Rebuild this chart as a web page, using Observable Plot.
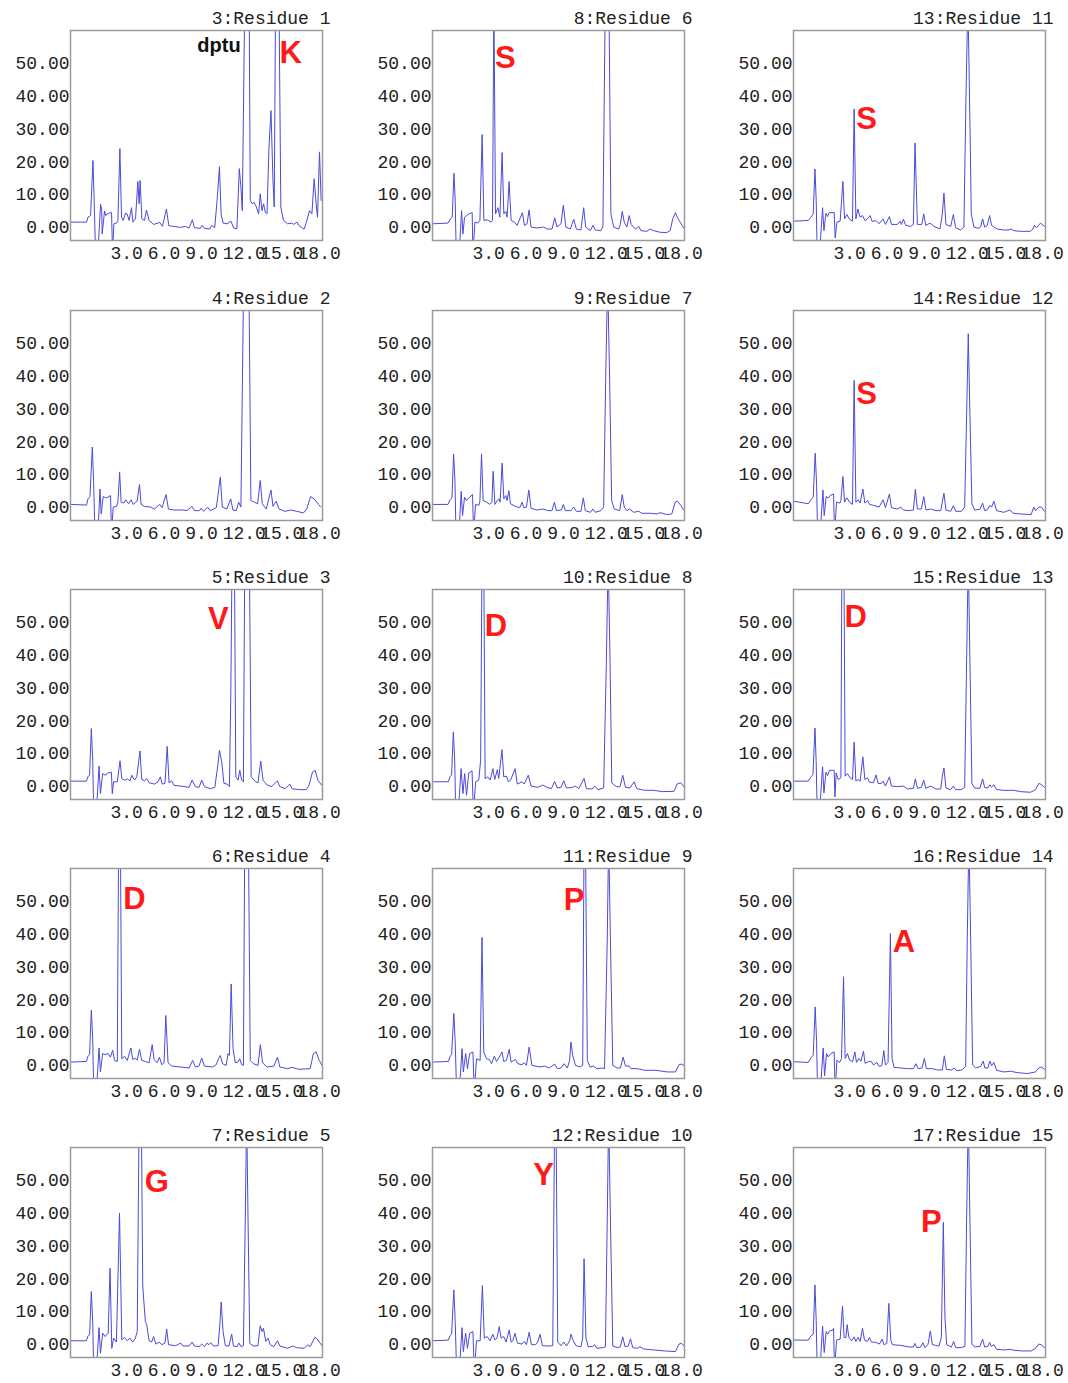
<!DOCTYPE html>
<html><head><meta charset="utf-8">
<script src="https://cdn.jsdelivr.net/npm/d3@7"></script>
<script src="https://cdn.jsdelivr.net/npm/@observablehq/plot@0.6"></script>
<style>
body{margin:0;background:#fff;}
#grid{position:relative;width:1068px;height:1383px;background:#fff;}
.panel{position:absolute;}
</style></head><body><div id="grid"></div>
<script>
const xTicks = [3, 6, 9, 12, 15, 18];
const yTicks = [0, 10, 20, 30, 40, 50];
const titles = ["3:Residue 1","4:Residue 2","5:Residue 3","6:Residue 4","7:Residue 5",
  "8:Residue 6","9:Residue 7","10:Residue 8","11:Residue 9","12:Residue 10",
  "13:Residue 11","14:Residue 12","15:Residue 13","16:Residue 14","17:Residue 15"];

// Chromatogram traces: [time (min), signal]
const res1 = [[-0.19,1.6],[1.09,1.6],[1.2,3.1],[1.41,3.6],[1.6,20.4],[1.7,8],[1.81,-8],[2.0,-8],[2.21,7],[2.3,5.6],[2.34,-2],[2.53,5],[2.64,3.6],[2.74,4.1],[3.01,4.5],[3.09,4.5],[3.17,-8],[3.28,1.1],[3.49,1.3],[3.6,2.1],[3.76,24],[3.89,3.1],[4.02,2.1],[4.21,4.3],[4.34,4.1],[4.5,2.1],[4.69,6],[4.8,1.6],[5.01,2.6],[5.2,14],[5.3,7.2],[5.38,14.3],[5.52,2.6],[5.73,2.1],[5.89,5.3],[6.1,2.1],[6.47,0.9],[6.95,1.5],[7.17,0.3],[7.49,5.6],[7.68,0.5],[8.08,0.3],[8.61,0],[9.01,0.3],[9.3,-0.2],[9.57,2.3],[9.73,-0.1],[10.21,-0.3],[10.34,0.6],[10.53,-0.3],[10.96,-0.5],[11.12,0.6],[11.36,-0.1],[11.55,8.2],[11.74,18.5],[11.87,4.1],[12.03,1.3],[12.34,1.1],[12.66,1.9],[12.88,-0.2],[13.14,-0.4],[13.33,17.9],[13.46,12.3],[13.57,5.1],[13.77,70],[14.12,70],[14.21,8.2],[14.37,7.2],[14.53,7.6],[14.69,6.3],[14.88,4.1],[15.01,10.2],[15.15,5.1],[15.28,7.2],[15.41,4.6],[15.55,4.1],[15.71,24.5],[15.87,35.6],[16.03,14.3],[16.13,6.2],[16.24,70],[16.51,70],[16.66,6.2],[16.87,2.1],[17.2,1.1],[17.55,1.3],[17.68,0.9],[17.95,1.6],[18.1,0.6],[18.34,-0.1],[18.53,-0.5],[18.75,2.1],[18.96,5.1],[19.15,4.1],[19.33,14.8],[19.49,7.2],[19.6,3.1],[19.76,23],[19.89,8.2]];
const res2 = [[-0.19,0.9],[1.09,0.7],[1.2,2.6],[1.36,3.3],[1.55,18.4],[1.65,8.2],[1.76,-8],[2.0,-8],[2.16,5.6],[2.26,-2],[2.42,3.3],[2.61,2.9],[2.8,3.1],[3.01,3.6],[3.09,-8],[3.22,0.1],[3.49,0.3],[3.6,1.6],[3.74,10.7],[3.86,1.6],[4.07,1.3],[4.23,2.3],[4.45,1.1],[4.66,2.3],[4.82,0.9],[5.14,1.9],[5.33,7],[5.46,0.9],[5.73,0.3],[6.21,0.1],[6.53,-0.5],[6.95,0.9],[7.14,-0.1],[7.46,3.9],[7.65,-0.5],[8.08,-0.8],[8.74,-0.8],[9.14,-1],[9.54,0.3],[9.73,-1],[10.15,-1],[10.26,-0.3],[10.47,-1.2],[10.79,0.1],[11.0,-1],[11.49,-0.1],[11.81,9.2],[11.97,0.1],[12.34,-0.5],[12.64,2.6],[12.82,-0.8],[13.09,-1],[13.28,1.6],[13.46,0.1],[13.68,70],[14.1,70],[14.26,2.1],[14.53,1.6],[14.8,1.1],[15.01,8.2],[15.17,1.1],[15.49,-0.5],[15.87,5.3],[16.03,0.3],[16.29,1.9],[16.51,-0.5],[17.0,-1.2],[17.46,-0.8],[17.94,-1.2],[18.47,-1.7],[18.74,-0.5],[19.05,3.3],[19.33,2.6],[19.68,0.9],[19.86,0.1]];
const res3 = [[-0.2,1.6],[1.07,1.6],[1.22,3.1],[1.33,3.4],[1.47,17.6],[1.58,8],[1.66,-8],[1.87,-8],[2.09,6.2],[2.2,-2.2],[2.38,3.9],[2.57,3.4],[2.82,4.1],[3.08,4.3],[3.15,-2.2],[3.26,1.4],[3.55,1.4],[3.77,7.8],[3.91,2.4],[4.13,1.9],[4.39,2.3],[4.57,1.6],[4.71,3.4],[4.93,1.9],[5.11,2.9],[5.37,10.8],[5.51,2.1],[5.73,1.7],[5.91,2.4],[6.1,1.1],[6.53,0.7],[6.82,1.4],[7.0,2.9],[7.15,0.7],[7.37,0.9],[7.55,12.2],[7.7,1.1],[7.91,1.7],[8.1,0.3],[8.64,0.1],[9.3,-0.3],[9.55,1.9],[9.81,-0.1],[10.1,-0.3],[10.32,1.9],[10.54,-0.1],[11.01,-0.7],[11.37,-0.3],[11.63,7],[11.74,11],[11.92,7.5],[12.1,0.9],[12.35,0.7],[12.54,-0.1],[12.65,28],[12.75,70],[12.94,70],[13.05,2.9],[13.23,1.9],[13.37,4.9],[13.52,1.9],[13.66,1.4],[13.77,70],[14.14,70],[14.28,2.9],[14.65,1.4],[14.83,1.1],[15.05,7.7],[15.23,1.9],[15.56,0.4],[15.92,-0.1],[16.39,1.7],[16.58,-0.1],[17.01,-0.7],[17.38,0.7],[17.56,-0.7],[18.1,-1],[18.69,-1],[18.9,0.1],[19.2,4.4],[19.41,4.9],[19.63,1.9],[19.92,0.4]];
const res4 = [[-0.2,1],[1.07,1.2],[1.22,3],[1.33,3.3],[1.47,16.8],[1.58,8.1],[1.66,-8],[1.87,-8],[2.09,5.3],[2.2,-2],[2.38,3.6],[2.57,3.3],[2.82,3.6],[3.0,2.5],[3.18,4.6],[3.33,1.5],[3.55,1.2],[3.66,70],[3.8,70],[3.91,2],[4.13,2.8],[4.35,1.5],[4.64,5.3],[4.79,1.8],[5.0,2.2],[5.15,1.6],[5.33,4.9],[5.51,1.5],[5.8,1.2],[6.1,0.8],[6.35,6.3],[6.5,1.8],[6.75,0.8],[6.93,2.5],[7.11,0.2],[7.3,0.8],[7.44,15.2],[7.62,0.8],[7.91,-0.2],[8.64,-0.5],[9.3,-0.8],[9.59,1.5],[9.81,-0.5],[10.1,-0.2],[10.32,2.2],[10.54,-0.2],[11.19,-0.5],[11.48,0.2],[11.66,2],[11.81,3],[11.99,0.5],[12.28,0],[12.43,3.6],[12.54,3],[12.68,24.8],[12.83,5.1],[13.01,0.8],[13.23,1],[13.37,2],[13.52,0.2],[13.66,0],[13.77,70],[14.06,70],[14.21,1.5],[14.47,0.5],[14.83,0],[15.02,6.3],[15.2,0.8],[15.56,-0.5],[16.1,-0.2],[16.39,2.5],[16.58,-0.5],[17.19,-1],[17.56,-0.6],[18.1,-1.2],[19.01,-1],[19.27,3.6],[19.49,4.1],[19.74,1.5],[19.96,0]];
const res5 = [[-0.2,1.1],[1.07,1.1],[1.22,2.7],[1.33,2.9],[1.47,16.1],[1.58,7],[1.66,-8],[1.87,-8],[2.09,5.1],[2.2,-2.7],[2.38,3.4],[2.57,2.4],[2.82,3.4],[2.97,23.2],[3.11,-1.2],[3.26,1.9],[3.48,0.7],[3.73,40],[3.91,1.4],[4.13,2.1],[4.35,1.1],[4.57,1.9],[4.79,0.7],[5.0,1.9],[5.15,3.9],[5.3,70],[5.48,70],[5.59,18.1],[5.66,14.1],[5.8,7],[5.91,6],[6.1,1.1],[6.31,0.7],[6.46,2.4],[6.64,0.1],[6.93,0.7],[7.11,-0.1],[7.37,0.4],[7.51,4.7],[7.66,-0.1],[8.21,-0.4],[8.64,0.4],[8.82,-0.5],[9.3,-0.5],[9.55,0.7],[9.73,-0.5],[10.1,-0.7],[10.32,0.1],[10.54,-0.7],[10.75,0.4],[10.9,-0.1],[11.04,0.5],[11.26,-0.5],[11.63,-0.4],[11.77,6],[11.88,12.9],[12.03,3.9],[12.21,-0.4],[12.5,-0.5],[12.72,3.1],[12.86,-0.5],[13.16,-0.7],[13.3,0.4],[13.48,-0.7],[13.66,-0.4],[13.81,38.5],[13.92,70],[14.03,38.5],[14.17,0.3],[14.47,-0.5],[14.83,-0.4],[15.01,5.7],[15.16,3.9],[15.27,4.9],[15.45,0.9],[15.63,1.9],[15.81,-0.1],[16.1,-0.7],[16.39,1.1],[16.58,-0.5],[17.19,-1.2],[17.63,-0.5],[17.92,-1],[18.54,-1.2],[18.83,-0.1],[19.01,-0.7],[19.38,2.1],[19.56,1.7],[19.74,0.7],[19.96,-0.4]];
const res6 = [[-0.19,1.1],[1.04,1.3],[1.25,2.6],[1.38,3.1],[1.52,16.5],[1.62,8.2],[1.7,-8],[1.94,-8],[2.13,5.1],[2.24,-2],[2.37,3.1],[2.53,3.6],[2.72,4.1],[2.98,4.5],[3.04,-8],[3.2,1.6],[3.44,1.3],[3.6,2.1],[3.78,28.3],[3.92,2.1],[4.18,2.3],[4.5,1.6],[4.61,2.1],[4.72,70],[4.85,4.1],[5.04,6],[5.2,3.1],[5.38,22.8],[5.52,4.1],[5.68,4.9],[5.78,3.1],[5.94,14],[6.1,2.1],[6.37,1.6],[6.58,0.6],[7.01,4.5],[7.17,0.6],[7.38,1.1],[7.54,5.3],[7.7,0.1],[8.18,-0.2],[8.72,0.1],[8.98,-0.5],[9.38,-0.5],[9.6,2.9],[9.78,0.1],[10.1,1.1],[10.29,6.8],[10.48,0.1],[10.85,-0.5],[11.12,2.5],[11.33,-0.5],[11.7,-0.8],[11.92,6],[12.08,0.1],[12.45,-1],[12.66,0.6],[12.85,-0.8],[13.3,-1],[13.46,0.3],[13.65,70],[13.94,70],[14.1,4.1],[14.32,0.1],[14.72,-0.5],[14.85,0.9],[15.01,4.9],[15.17,1.6],[15.38,0.1],[15.57,3.6],[15.73,0.9],[16.05,-0.5],[16.34,0.3],[16.5,-1],[16.98,-1.2],[17.25,-0.5],[17.52,-1],[18.05,-1.5],[18.58,-1.6],[18.85,-1],[19.06,2.6],[19.28,4.5],[19.44,2.9],[19.7,1.3],[19.92,-0.1]];
const res7 = [[-0.19,0.9],[1.04,0.9],[1.2,2.3],[1.36,2.9],[1.49,16.3],[1.6,8.2],[1.68,-8],[1.92,-8],[2.1,4.9],[2.21,-2.5],[2.37,3.1],[2.53,2.1],[2.72,2.9],[3.01,3.9],[3.09,-8],[3.25,0.9],[3.52,0.6],[3.6,1.9],[3.73,16.3],[3.86,2.1],[4.13,1.6],[4.4,0.9],[4.56,1.6],[4.66,11],[4.8,0.9],[4.98,2.1],[5.14,2.6],[5.22,1.6],[5.38,13.5],[5.52,2.6],[5.68,3.6],[5.78,2.1],[5.92,5.1],[6.05,1.1],[6.45,0.3],[6.8,-0.1],[6.98,1.6],[7.12,-0.1],[7.33,0.1],[7.52,5.3],[7.7,-0.3],[8.18,-0.8],[8.66,-0.5],[9.04,-1],[9.38,-1],[9.57,1.6],[9.73,-1],[10.13,-0.8],[10.29,0.9],[10.45,-1],[10.9,-1],[11.12,0.1],[11.33,-1.2],[11.7,-1.2],[11.89,2.9],[12.05,-1],[12.45,-1.5],[12.66,-0.5],[12.85,-1.5],[13.3,-1],[13.52,0.1],[13.68,38.7],[13.84,70],[14.0,38.7],[14.16,2.1],[14.37,-0.5],[14.8,-1],[15.01,3.9],[15.17,0.1],[15.38,-1],[15.6,-0.5],[15.92,-1.5],[16.34,-1.2],[16.58,-1.8],[17.25,-1.8],[17.78,-2],[18.05,-1.6],[18.58,-2.2],[18.98,-2],[19.25,1.6],[19.44,1.9],[19.7,0.6],[19.92,-0.8]];
const res8 = [[-0.2,1.4],[1.07,1.4],[1.22,3.1],[1.33,3.4],[1.47,16.6],[1.58,8],[1.66,-8],[1.87,-8],[2.09,5.4],[2.24,-2.2],[2.38,3.9],[2.53,-2.7],[2.71,4.1],[2.97,4.7],[3.08,-8],[3.26,1.4],[3.51,1.9],[3.66,8],[3.77,70],[3.91,70],[4.02,2.4],[4.24,2.9],[4.42,1.9],[4.64,5.4],[4.79,2.1],[5.0,5.1],[5.11,2.4],[5.37,11.2],[5.51,2.9],[5.73,3.1],[5.88,1.4],[6.06,1.9],[6.42,5.4],[6.6,0.7],[6.97,1.4],[7.15,0.7],[7.48,3.4],[7.7,0.1],[8.24,-0.3],[8.64,0.4],[8.97,-0.3],[9.33,-0.7],[9.59,1.5],[9.81,-0.5],[10.1,-0.3],[10.32,1.7],[10.54,-0.5],[11.04,-0.3],[11.26,0.1],[11.52,-0.7],[11.95,2.4],[12.14,-0.7],[12.61,-0.8],[12.79,0.1],[13.08,-1],[13.52,-0.5],[13.74,38.5],[13.88,70],[14.03,38.5],[14.17,1.1],[14.54,-0.1],[14.83,-0.1],[15.05,3.4],[15.27,-0.3],[15.63,-0.5],[15.96,1.4],[16.18,-0.7],[16.8,-1.2],[17.52,-1.2],[18.25,-1.6],[19.16,-1.5],[19.41,0.7],[19.7,1.1],[19.96,-0.1]];
const res9 = [[-0.2,1],[1.07,1.2],[1.22,2.8],[1.33,3.3],[1.51,15.8],[1.62,7.1],[1.73,-8],[1.95,-8],[2.17,5.1],[2.27,-2],[2.46,3.6],[2.6,-1],[2.78,3.6],[3.04,4.1],[3.15,-8],[3.33,2],[3.62,1.5],[3.77,39],[3.91,4.1],[4.13,2],[4.35,1.8],[4.53,0.5],[4.75,2.8],[4.93,1.2],[5.15,2.5],[5.37,4.1],[5.51,1.2],[5.73,1.5],[5.95,4.9],[6.1,1],[6.46,1.8],[6.64,0.5],[6.97,0.2],[7.15,0.8],[7.33,0],[7.55,5.6],[7.77,0],[8.42,-0.5],[8.79,-0.2],[9.15,-0.8],[9.59,0.4],[9.81,-1],[10.1,-0.8],[10.35,0.5],[10.61,-0.8],[10.79,1.5],[10.9,7.1],[11.04,3],[11.26,0],[11.63,-0.5],[11.84,0],[11.95,70],[12.06,70],[12.21,1.5],[12.43,-0.5],[12.72,-0.2],[12.97,-1],[13.37,-0.8],[13.59,-1],[13.81,38.6],[13.92,70],[14.06,38.6],[14.25,0],[14.61,-0.8],[14.86,-0.8],[15.08,2.5],[15.27,-0.2],[15.56,-0.2],[15.71,-1],[16.25,-1],[16.8,-1.5],[17.7,-1.5],[18.61,-2],[19.27,-2],[19.56,0.2],[19.78,0.4],[20.0,-0.2]];
const res10 = [[-0.2,1.1],[1.07,1.3],[1.22,2.7],[1.33,3.1],[1.51,16.6],[1.62,7],[1.73,-8],[1.95,-8],[2.17,5.1],[2.27,-2.2],[2.46,3.4],[2.6,-1.2],[2.78,3.4],[3.04,3.9],[3.15,-8],[3.33,1.1],[3.62,1.1],[3.8,17.9],[3.95,1.9],[4.17,2.4],[4.42,1.1],[4.64,3.1],[4.79,1.4],[4.97,1.9],[5.15,5.4],[5.3,1.9],[5.51,2.4],[5.7,0.7],[5.95,4.4],[6.1,0.7],[6.24,1.1],[6.42,3.4],[6.6,0.4],[6.97,0.1],[7.15,0.9],[7.33,-0.1],[7.55,3.7],[7.73,-0.1],[8.06,-0.1],[8.24,0.7],[8.42,3.1],[8.61,-0.4],[9.15,-0.5],[9.44,-0.4],[9.59,70],[9.7,70],[9.84,0.7],[10.1,-0.4],[10.32,0.7],[10.54,-0.5],[10.79,1.1],[10.9,3.1],[11.08,1.1],[11.34,-0.5],[11.7,-0.7],[11.84,1.9],[11.95,26.1],[12.1,1.9],[12.28,-0.7],[12.65,-0.6],[12.79,-0.1],[12.97,-1.2],[13.45,-1],[13.66,-0.7],[13.81,38.5],[13.92,70],[14.06,38.5],[14.25,-0.5],[14.61,-1],[14.86,-0.7],[15.05,2.3],[15.23,-0.7],[15.49,-0.5],[15.67,1.7],[15.85,-1],[16.25,-1.2],[16.43,-0.7],[16.72,-1.4],[17.52,-1.7],[18.43,-2],[19.27,-2.2],[19.56,0.1],[19.78,0.3],[20.0,-0.7]];
const res11 = [[-0.19,1.9],[0.98,2.1],[1.2,3.1],[1.38,4.1],[1.52,17.8],[1.62,8.2],[1.7,-8],[1.89,-8],[2.13,6],[2.24,-1],[2.4,4.3],[2.53,3.3],[2.66,4.5],[3.06,4.5],[3.14,-3.2],[3.28,1.6],[3.54,1.9],[3.76,14],[3.89,2.6],[4.08,3.9],[4.26,2.6],[4.53,1.9],[4.66,36.1],[4.8,2.6],[4.96,5.6],[5.14,3.1],[5.33,3.6],[5.52,2.1],[5.73,2.6],[5.94,3.6],[6.1,1.8],[6.4,2.1],[6.66,1.1],[6.98,2.6],[7.17,0.9],[7.49,3.3],[7.65,0.9],[8.13,0.9],[8.34,1.9],[8.45,0.9],[8.61,2.5],[8.8,0.6],[9.2,0.3],[9.41,0.9],[9.54,25.7],[9.73,0.9],[10.08,0.9],[10.24,4.1],[10.4,0.6],[10.74,1.3],[11.06,0.3],[11.54,-0.5],[11.73,4.1],[11.86,10.4],[12.02,0.9],[12.4,0.3],[12.61,3.9],[12.8,-0.1],[13.2,-0.8],[13.46,0.1],[13.62,38.7],[13.78,70],[13.94,32.6],[14.05,4.1],[14.26,0.1],[14.66,-0.3],[14.8,0.1],[14.96,2.6],[15.12,0.1],[15.33,0.6],[15.52,3.6],[15.68,0.6],[16.13,-0.5],[16.66,-0.8],[17.06,-0.8],[17.25,-0.5],[17.46,-1],[17.99,-1.2],[18.8,-1.2],[18.98,-0.5],[19.12,0.6],[19.28,-0.1],[19.6,1.3],[19.92,0.3]];
const res12 = [[-0.19,1.9],[0.98,1.1],[1.2,2.3],[1.38,3.1],[1.54,16.5],[1.65,7.2],[1.73,-8],[1.94,-8],[2.16,5.3],[2.26,-2.5],[2.42,3.3],[2.58,2.9],[2.74,3.6],[3.01,4.1],[3.09,-8],[3.25,1.6],[3.52,1.3],[3.6,2.1],[3.76,9.4],[3.89,1.6],[4.08,2.9],[4.29,1.6],[4.53,0.9],[4.66,38.7],[4.8,1.6],[4.98,2.3],[5.14,1.3],[5.36,5.6],[5.52,1.3],[5.73,2.1],[5.89,0.9],[6.21,0.6],[6.66,0.1],[6.98,2.3],[7.17,-0.1],[7.49,4.1],[7.65,-0.1],[8.13,-0.5],[8.4,0.1],[8.61,-0.8],[9.06,-1],[9.41,-0.8],[9.57,5.5],[9.73,-0.5],[10.05,-0.5],[10.24,3.3],[10.42,-0.8],[10.8,-0.5],[11.2,-1],[11.6,-1],[11.86,4.3],[12.02,-0.8],[12.4,-1.2],[12.61,0.5],[12.8,-1.2],[13.25,-1.2],[13.52,0.1],[13.68,28.5],[13.81,52.9],[13.94,28.5],[14.1,1.1],[14.32,-0.8],[14.74,-0.6],[14.96,1.3],[15.12,-1],[15.33,-0.8],[15.54,0.6],[15.68,0.1],[15.86,1.9],[16.08,-1],[16.66,-1.5],[17.14,-0.8],[17.41,-1.8],[17.99,-2],[18.85,-2.2],[19.06,0.1],[19.2,-1],[19.46,0.1],[19.68,0.1],[19.92,-1.2]];
const res13 = [[-0.19,1.6],[0.98,1.6],[1.2,2.9],[1.36,3.6],[1.52,17.8],[1.62,7.2],[1.7,-8],[1.89,-8],[2.13,6],[2.24,-2],[2.4,4.3],[2.53,3.3],[2.69,4.9],[3.06,4.9],[3.12,-3.2],[3.22,4.1],[3.38,2.1],[3.6,2.6],[3.68,70],[3.84,70],[3.94,3.1],[4.13,3.9],[4.34,2.6],[4.53,2.1],[4.66,13.5],[4.8,1.6],[4.98,2.1],[5.14,1.6],[5.36,9],[5.52,2.1],[5.73,2.6],[5.89,1.3],[6.21,1.1],[6.42,3.5],[6.58,0.9],[6.85,0.9],[6.98,1.6],[7.17,0.1],[7.49,2.9],[7.65,0.1],[8.13,-0.1],[8.61,0.1],[8.93,-0.8],[9.41,-0.6],[9.57,2.3],[9.73,-0.6],[10.05,-0.3],[10.24,1.9],[10.4,-0.6],[10.8,0.1],[11.2,-0.8],[11.6,-0.8],[11.73,3.1],[11.86,5.6],[12.02,-0.5],[12.4,-1],[12.61,0.1],[12.8,-1],[13.25,-1],[13.52,-0.3],[13.68,38.7],[13.81,70],[13.94,38.7],[14.1,0.9],[14.32,-0.5],[14.74,-0.6],[14.96,2.3],[15.12,-0.3],[15.38,-0.5],[15.54,0.5],[15.68,-0.3],[15.86,0.5],[16.08,-1],[16.66,-1.2],[17.46,-1.2],[17.99,-1.6],[18.8,-1.8],[19.2,-1],[19.46,0.9],[19.65,0.6],[19.92,-0.3]];
const res14 = [[-0.19,1.1],[0.98,0.9],[1.2,2.3],[1.38,3.1],[1.54,17.8],[1.65,7.2],[1.73,-8],[1.94,-8],[2.18,5.3],[2.29,-3.2],[2.45,3.6],[2.58,2.6],[2.8,3.6],[3.06,4.1],[3.14,-8],[3.28,1.6],[3.49,0.9],[3.65,2.1],[3.81,27],[3.94,2.1],[4.13,3.6],[4.29,1.6],[4.53,1.1],[4.72,4.1],[4.85,0.9],[5.04,2.1],[5.2,1.3],[5.41,4.3],[5.54,0.6],[5.78,1.1],[6.0,1.3],[6.21,0.1],[6.48,0.9],[6.66,-0.3],[6.88,-0.1],[7.04,4.5],[7.17,0.1],[7.38,0.9],[7.57,40.2],[7.7,2.1],[7.86,-0.6],[8.4,-0.8],[8.93,-1],[9.41,-1],[9.62,0.5],[9.78,-1],[10.1,-0.8],[10.29,2.1],[10.45,-1],[10.93,-1],[11.33,-1.4],[11.73,-1.4],[11.89,2.9],[12.05,-1.2],[12.45,-1.4],[12.66,-0.8],[12.88,-1.6],[13.3,-1.4],[13.6,-0.3],[13.73,38.7],[13.86,70],[14.0,38.7],[14.16,0.1],[14.4,-0.8],[14.8,-0.3],[15.01,1.3],[15.14,-0.8],[15.38,-0.8],[15.54,1.3],[15.68,-0.1],[15.86,0.9],[16.08,-1.5],[16.66,-2],[17.2,-1.8],[17.73,-2.2],[18.53,-2.5],[19.2,-2],[19.46,-0.8],[19.68,-0.5],[19.92,-1.2]];
const res15 = [[-0.19,1.3],[0.98,1.3],[1.2,2.6],[1.38,3.1],[1.52,18.1],[1.62,7.2],[1.7,-8],[1.92,-8],[2.13,5.6],[2.26,-2.5],[2.42,3.9],[2.53,3.1],[2.69,4.1],[2.93,4.3],[3.01,4.9],[3.09,-8],[3.25,1.3],[3.54,1.6],[3.73,11.7],[3.86,2.1],[4.0,2.1],[4.1,6],[4.24,2.1],[4.45,1.1],[4.66,2.3],[4.8,0.9],[4.98,2.1],[5.14,0.9],[5.33,4.9],[5.49,1.3],[5.73,0.9],[5.89,2.1],[6.05,0.7],[6.4,0.6],[6.69,0.1],[6.9,1.6],[7.06,-0.1],[7.28,0.3],[7.44,12.5],[7.6,1.3],[7.73,-0.1],[8.4,-0.3],[9.06,-0.8],[9.41,-0.8],[9.52,0.3],[9.68,-1],[10.0,-0.8],[10.18,0.5],[10.34,-1],[10.58,-0.1],[10.77,4.1],[10.93,-0.1],[11.2,-0.3],[11.46,-0.5],[11.65,2.1],[11.81,37.2],[11.94,8.2],[12.08,-0.1],[12.45,-0.8],[12.64,0.9],[12.8,-1],[13.25,-1],[13.54,-0.6],[13.68,38.7],[13.81,70],[13.94,38.7],[14.1,0.1],[14.32,-0.8],[14.74,-0.6],[14.96,1.6],[15.12,-0.8],[15.38,-0.6],[15.52,0.6],[15.65,-0.6],[15.86,-0.1],[16.08,-1.5],[16.66,-1.7],[17.2,-1.5],[17.46,-1.8],[18.13,-2],[18.85,-2],[19.2,-1.2],[19.46,0.1],[19.65,-0.1],[19.92,-1]];

const traces = [res1,res2,res3,res4,res5,res6,res7,res8,res9,res10,res11,res12,res13,res14,res15];

// Peak annotations (panel index = residue - 1)
const annotPanel  = [0, 0, 2, 3, 4, 5, 7, 8, 9, 10, 11, 12, 13, 14];
const annotText   = ["dptu", "K", "V", "D", "G", "S", "D", "P", "Y", "S", "S", "D", "A", "P"];
const annotTime   = [11.7, 17.45, 11.66, 4.92, 6.71, 5.63, 4.88, 11.14, 8.71, 5.66, 5.66, 4.78, 8.65, 10.85];
const annotSignal = [53.3, 50.2, 47.9, 47.8, 46.4, 48.7, 45.7, 47.5, 48.5, 30.1, 31.6, 48.5, 34.7, 34.3];

const annots = annotText.map((text, i) => ({panel: annotPanel[i], text, t: annotTime[i], v: annotSignal[i]}));

const grid = document.getElementById("grid");
const colLeft = [0, 362, 723];
const rowTop = [0, 280, 559, 838, 1117];

traces.forEach((trace, i) => {
  const col = Math.floor(i / 5), row = i % 5;
  const mine = annots.filter(a => a.panel === i);
  const chart = Plot.plot({
    width: 352, height: 266,
    marginLeft: 70, marginTop: 30, marginRight: 30, marginBottom: 26,
    x: {domain: [-0.2, 20], label: null},
    y: {domain: [-4, 60], label: null},
    style: {fontFamily: "'Liberation Mono', monospace", fontSize: "18px", color: "#222", background: "transparent", overflow: "visible"},
    marks: [
      Plot.axisY({ticks: yTicks, tickFormat: d3.format(".2f"), tickSize: 0, tickPadding: 1, label: null}),
      Plot.axisX({ticks: xTicks, tickFormat: d3.format(".1f"), tickSize: 0, tickPadding: 6, textAnchor: "start", label: null}),
      Plot.line(trace, {x: d => d[0], y: d => d[1], stroke: "#4a4ad8", strokeWidth: 1, clip: true}),
      Plot.frame({stroke: "#9a9a9a", strokeWidth: 1.5}),
      Plot.text([titles[i]], {frameAnchor: "top-right", dx: 8, dy: -7, textAnchor: "end", lineAnchor: "bottom", fill: "#222"}),
      Plot.text(mine, {x: "t", y: "v", text: "text", textAnchor: "middle", lineAnchor: "bottom",
        fontFamily: "'Liberation Sans', Arial, sans-serif", fontWeight: "bold",
        fontSize: d => d.text === "dptu" ? 20 : 31,
        fill: d => d.text === "dptu" ? "#111" : "#ff1a1a"})
    ]
  });
  chart.classList.add("panel");
  chart.style.left = colLeft[col] + "px";
  chart.style.top = rowTop[row] + "px";
  grid.appendChild(chart);
});
</script>
</body></html>
